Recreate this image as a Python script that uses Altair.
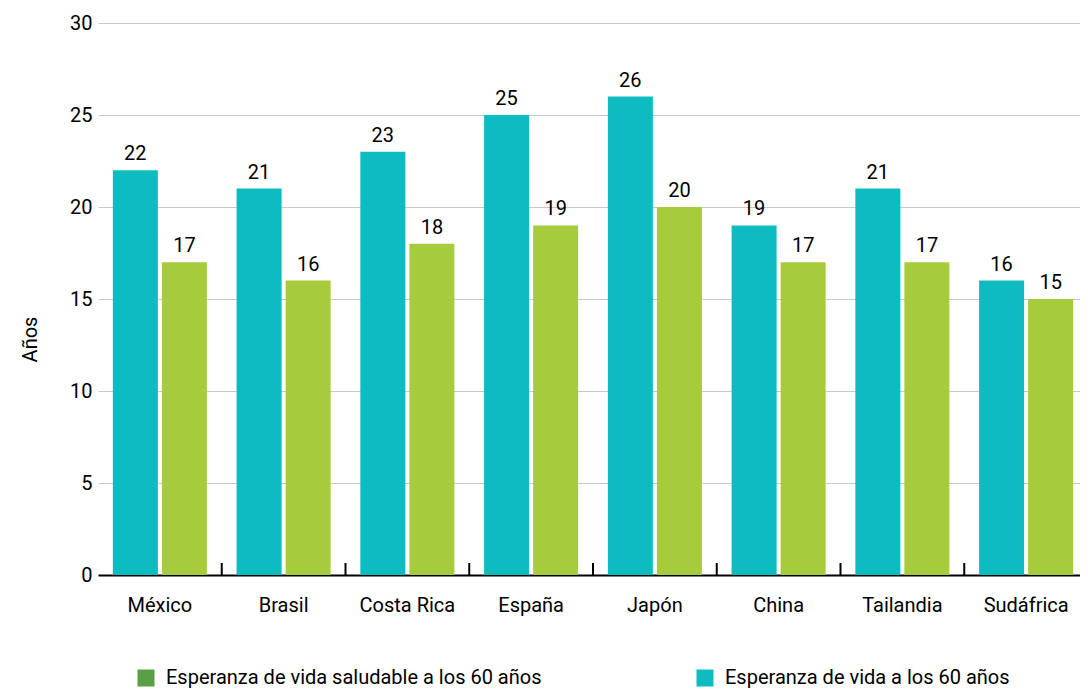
import altair as alt
import pandas as pd

paises = ["México", "Brasil", "Costa Rica", "España", "Japón", "China", "Tailandia", "Sudáfrica"]
vida_60 = [22, 21, 23, 25, 26, 19, 21, 16]
saludable_60 = [17, 16, 18, 19, 20, 17, 17, 15]
serie_vida = "Esperanza de vida a los 60 años"
serie_salud = "Esperanza de vida saludable a los 60 años"

rows = []
for p, v, s in zip(paises, vida_60, saludable_60):
    rows.append({"pais": p, "serie": serie_vida, "valor": v})
    rows.append({"pais": p, "serie": serie_salud, "valor": s})
df = pd.DataFrame(rows)
df_p = pd.DataFrame({"pais": paises})

TEAL = "#0dbcc0"
GREEN = "#a6cc3d"
LEG_GREEN = "#5a9e48"

W = 990
P_IN = 0.24
P_OUT = 0.12
STEP = W / len(paises)
xscale = alt.Scale(domain=paises, paddingInner=P_IN, paddingOuter=P_OUT)
x = alt.X("pais:N", sort=paises, scale=xscale,
          axis=alt.Axis(title=None, labelAngle=0, ticks=False, domainColor="black",
                        domainWidth=2, labelPadding=20, labelFontSize=20,
                        labelColor="black", grid=False))
y = alt.Y("valor:Q", scale=alt.Scale(domain=[0, 30], nice=False),
          axis=alt.Axis(title="Años", values=[0, 5, 10, 15, 20, 25, 30], domain=False,
                        ticks=False, labelPadding=6, labelFontSize=20, labelColor="black",
                        gridColor="#c8c8c8", gridWidth=1, titleFontSize=20,
                        titleFontWeight="normal", titleColor="black",
                        titleX=-68, titleY=316, titleAngle=270, titleAlign="center",
                        titleBaseline="middle"))
xoff = alt.XOffset("serie:N", sort=[serie_vida, serie_salud],
                   scale=alt.Scale(paddingInner=0.082, paddingOuter=0))

bars = alt.Chart(df).mark_bar().encode(
    x=x, y=y, xOffset=xoff,
    color=alt.Color("serie:N", scale=alt.Scale(domain=[serie_vida, serie_salud], range=[TEAL, GREEN]),
                    legend=None),
)

labels = alt.Chart(df).mark_text(baseline="alphabetic", dy=-10, fontSize=20, color="black").encode(
    x=alt.X("pais:N", sort=paises, scale=xscale), y="valor:Q", xOffset=xoff, text="valor:Q"
)

ticks = alt.Chart(df_p).mark_rule(color="black", strokeWidth=2, xOffset=STEP * P_IN / 2).encode(
    x=alt.X("pais:N", sort=paises, scale=xscale, bandPosition=1),
    y=alt.value(540), y2=alt.value(552)
)

legend_layer = alt.Chart(df).mark_square(size=0, opacity=0).encode(
    x=alt.X("pais:N", sort=paises, scale=xscale), y="valor:Q",
    fill=alt.Fill("serie:N",
                  scale=alt.Scale(domain=[serie_salud, serie_vida], range=[LEG_GREEN, TEAL]),
                  legend=alt.Legend(title=None, orient="none", legendX=38, legendY=645,
                                    direction="horizontal", columns=2, columnPadding=153,
                                    symbolType="square", symbolSize=289, symbolOpacity=1,
                                    symbolStrokeWidth=0, labelFontSize=20, labelColor="black",
                                    labelOffset=10, padding=0, labelLimit=500))
)

chart = alt.layer(bars, labels, ticks, legend_layer).resolve_scale(
    color="independent", fill="independent"
).properties(
    width=W, height=552,
    autosize=alt.AutoSizeParams(type="none"),
    padding={"left": 90, "top": 15, "right": -8, "bottom": 115},
    background="white",
).configure(font="Roboto").configure_view(stroke=None)

chart.save("out.html", embed_options={"renderer": "svg", "actions": False})
